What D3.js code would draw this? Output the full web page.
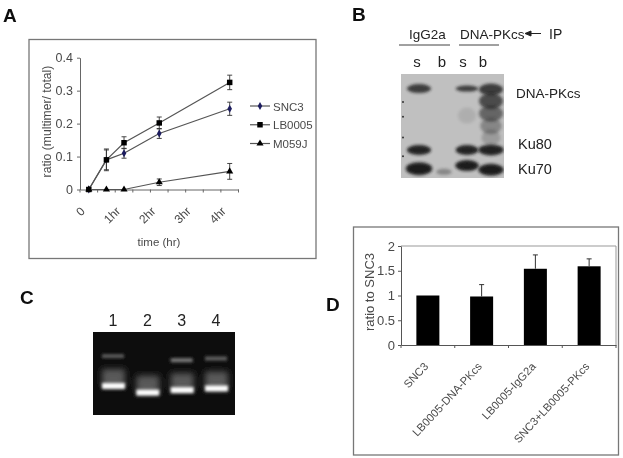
<!DOCTYPE html>
<html><head><meta charset="utf-8">
<script src="https://cdn.jsdelivr.net/npm/d3@7/dist/d3.min.js"></script>
<style>html,body{margin:0;padding:0;background:#fff}svg{display:block}text{font-family:"Liberation Sans",Arial,sans-serif}</style>
</head><body><svg id="c" width="623" height="458"></svg>
<script>
// Panel A
const timeCats = ["0","a","1hr","b","2hr","c","3hr","d","4hr"];
const timeIdx = [0,1,2,4,8];
const snc3 = [0,0.09,0.11,0.17,0.245];
const snc3Err = [0,0.03,0.015,0.015,0.02];
const lb0005 = [0,0.09,0.142,0.202,0.325];
const lb0005Err = [0,0.033,0.018,0.018,0.022];
const m059j = [0,0,0,0.022,0.055];
const m059jErr = [0,0,0,0.01,0.024];
const aTicks = [0,0.1,0.2,0.3,0.4];
const aLegend = ["SNC3","LB0005","M059J"];
// Panel D
const dCats = ["SNC3","LB0005-DNA-PKcs","LB0005-IgG2a","SNC3+LB0005-PKcs"];
const dVals = [1,0.98,1.54,1.59];
const dErr = [0,0.24,0.28,0.15];
const dTicks = [0,0.5,1,1.5,2];
// Panel B gel: lane, migration, relative width, height, opacity
const bLanes = ["s1","b1","s2","b2"];
const bBands = [
 ["s1",14,1.0,7,0.8],["s1",73,1.0,8,0.95],["s1",91,1.1,11,0.98],
 ["b1",94,0.65,4,0.35],
 ["s2",14,0.95,4,0.8],["s2",73,0.95,8,0.95],["s2",88,0.98,9,0.98],["s2",40,0.75,14,0.1],
 ["b2",15,1.0,10,0.8],["b2",26,1.0,14,0.7],["b2",38,1.0,14,0.55],["b2",50,0.9,14,0.35],["b2",61,0.8,14,0.22],
 ["b2",73,1.05,9,0.95],["b2",92,1.05,10,0.98]
];
const bMarkers = [[27],[41],[61],[79]];
// Panel C gel
const cLanes = ["1","2","3","4"];
const cHigh = [29,null,34,32];
const cHighAlpha = [0.5,0.15,0.7,0.55];
const cLow = [65,73,70,68];

const svg = d3.select("#c");
const defs = svg.append("defs");
[["b05",0.5],["b1",1.5],["b2",3]].forEach(([id,s])=>{
  defs.append("filter").attr("id",id).attr("filterUnits","userSpaceOnUse")
   .attr("x",0).attr("y",0).attr("width",623).attr("height",458)
   .append("feGaussianBlur").attr("stdDeviation",s);
});
const root = svg.append("g").attr("filter","url(#b05)");
const grey="#4a4a4a";
function label(t,x,y,size,opt={}){
  const e=root.append("text").attr("x",x).attr("y",y).attr("font-size",size).attr("fill",opt.fill||"#222")
   .attr("text-anchor",opt.anchor||"start").attr("font-weight",opt.weight||"normal").text(t);
  if(opt.rot!=null) e.attr("transform",`rotate(${opt.rot} ${x} ${y})`);
  return e;
}
function styleAxis(g,c="#666"){
  g.selectAll("path,line").attr("stroke",c).attr("stroke-width",1);
  g.selectAll("text").attr("fill",grey);
}
label("A",3,22,19,{weight:"bold",fill:"#111"});
label("B",352,21,19,{weight:"bold",fill:"#111"});
label("C",20,304,19,{weight:"bold",fill:"#111"});
label("D",326,311,19,{weight:"bold",fill:"#111"});

// ---- A
root.append("rect").attr("x",29).attr("y",39.5).attr("width",287).attr("height",219).attr("fill","#fff").attr("stroke","#777").attr("stroke-width",1.3);
const ax = d3.scaleBand().domain(timeCats).range([80,238.5]);
const ay = d3.scaleLinear().domain([0,0.4]).range([189.5,57.7]);
const gax = root.append("g").attr("transform","translate(0,189.5)")
  .call(d3.axisBottom(ax).tickSizeOuter(0).tickSize(0).tickFormat(""));
gax.selectAll(".tick").remove();
gax.selectAll("line.t").data(timeCats.concat(["end"])).join("line").attr("class","t")
  .attr("x1",(d,i)=>i<9?ax(d):ax.range()[1]).attr("x2",(d,i)=>i<9?ax(d):ax.range()[1]).attr("y1",0).attr("y2",3);
const gay = root.append("g").attr("transform","translate(80,0)")
  .call(d3.axisLeft(ay).tickValues(aTicks).tickSize(3).tickSizeOuter(0).tickFormat(d=>d===0?"0":d3.format(".1f")(d)));
gay.selectAll("text").attr("font-size",12.5).attr("x",-7);
gay.style("font-family","inherit");
styleAxis(gax);styleAxis(gay);
timeCats.forEach((c,i)=>{ if(i%2===0){
  const x=ax(c)+ax.bandwidth()/2;
  label(c,x-3,212,12,{anchor:"end",rot:-45,fill:grey});
}});
label("ratio (multimer/ total)",51,121.5,12.2,{anchor:"middle",rot:-90,fill:grey});
label("time (hr)",159,246,11.5,{anchor:"middle",fill:grey});
const xOf=i=>ax(timeCats[timeIdx[i]])+ax.bandwidth()/2;
const line=d3.line().x((d,i)=>xOf(i)).y(d=>ay(d));
const sym={ "SNC3":d3.symbolDiamond, "LB0005":d3.symbolSquare, "M059J":d3.symbolTriangle };
const symSize={ "SNC3":18,"LB0005":30,"M059J":22 };
const col={ "SNC3":"#1c1c5e","LB0005":"#000","M059J":"#000" };
[["SNC3",snc3,snc3Err],["LB0005",lb0005,lb0005Err],["M059J",m059j,m059jErr]].forEach(([n,v,e])=>{
  root.append("path").attr("d",line(v)).attr("fill","none").attr("stroke","#555").attr("stroke-width",1.2);
  const g=root.append("g");
  v.forEach((d,i)=>{
    if(e[i]>0){
      const x=xOf(i),y1=ay(d-e[i]),y2=ay(d+e[i]);
      g.append("path").attr("d",`M${x-2.5},${y1}H${x+2.5}M${x},${y1}V${y2}M${x-2.5},${y2}H${x+2.5}`).attr("stroke","#333").attr("fill","none").attr("stroke-width",0.9);
    }
    g.append("path").attr("d",d3.symbol().type(sym[n]).size(symSize[n])()).attr("transform",`translate(${xOf(i)},${ay(d)})`).attr("fill",col[n]);
  });
});
const legY=d3.scalePoint().domain(aLegend).range([106,143.5]);
aLegend.forEach(n=>{
  const y=legY(n);
  root.append("line").attr("x1",250).attr("x2",270).attr("y1",y).attr("y2",y).attr("stroke","#555").attr("stroke-width",1.2);
  root.append("path").attr("d",d3.symbol().type(sym[n]).size(symSize[n])()).attr("transform",`translate(260,${y})`).attr("fill",col[n]);
  label(n,273,y+4.5,11.5,{fill:grey});
});

// ---- B
const bPos={s1:419,b1:444,s2:467,b2:491};
const by=d3.scaleLinear().domain([0,100]).range([74,178]);
root.append("rect").attr("x",401).attr("y",74).attr("width",103).attr("height",104).attr("fill","#c0c0c0");
defs.append("clipPath").attr("id","bclip").append("rect").attr("x",401).attr("y",74).attr("width",103).attr("height",104);
const bGroup=root.append("g").attr("clip-path","url(#bclip)");
bBands.forEach(([l,m,w,h,a])=>{
  bGroup.append("ellipse").attr("cx",bPos[l]).attr("cy",by(m)).attr("rx",12*w).attr("ry",h/2+1)
   .attr("fill","#1c1c1c").attr("opacity",a).attr("filter","url(#b1)");
});
bMarkers.forEach(([m])=>root.append("circle").attr("cx",403).attr("cy",by(m)).attr("r",1).attr("fill","#333"));
label("IgG2a",409,39,13.5);
label("DNA-PKcs",460,39,13.5);
label("IP",549,39,14);
root.append("path").attr("d","M541,33.5H527M531,31L525,33.5L531,36Z").attr("stroke","#222").attr("fill","#222");
root.append("line").attr("x1",399).attr("x2",450).attr("y1",45).attr("y2",45).attr("stroke","#444");
root.append("line").attr("x1",459).attr("x2",499).attr("y1",45).attr("y2",45).attr("stroke","#444");
["s","b","s","b"].forEach((t,i)=>label(t,[417,442,463,483][i],67,15,{anchor:"middle"}));
label("DNA-PKcs",516,98,13.5);
label("Ku80",518,149,14.5);
label("Ku70",518,174,14.5);

// ---- C
const cx=d3.scalePoint().domain(cLanes).range([113,216]);
const cy=d3.scaleLinear().domain([0,100]).range([332,415]);
root.append("rect").attr("x",93).attr("y",332).attr("width",142).attr("height",83).attr("fill","#0d0d0d");
cLanes.forEach((l,i)=>{
  const x=cx(l);
  label(l,x,326,16,{anchor:"middle"});
  if(cHigh[i]!==null) root.append("rect").attr("x",x-11).attr("y",cy(cHigh[i])-2).attr("width",22).attr("height",4)
     .attr("fill","#aaa").attr("opacity",cHighAlpha[i]).attr("filter","url(#b1)");
  root.append("rect").attr("x",x-11).attr("y",cy(cLow[i])-17).attr("width",23).attr("height",18)
     .attr("fill","#999").attr("opacity",0.55).attr("filter","url(#b2)");
  root.append("rect").attr("x",x-11).attr("y",cy(cLow[i])-3).attr("width",23).attr("height",6)
     .attr("fill","#fff").attr("filter","url(#b1)");
});

// ---- D
root.append("rect").attr("x",353.5).attr("y",227).attr("width",265).attr("height",228).attr("fill","#fff").attr("stroke","#777").attr("stroke-width",1.3);
const dx=d3.scaleBand().domain(dCats).range([401,616]);
const dy=d3.scaleLinear().domain([0,2]).range([345,246]);
root.append("path").attr("d","M401,246H616V345").attr("fill","none").attr("stroke","#999");
const gdx=root.append("g").attr("transform","translate(0,345)").call(d3.axisBottom(dx).tickSize(0).tickSizeOuter(0).tickFormat(""));
gdx.selectAll(".tick").remove();
dCats.forEach(c=>gdx.append("line").attr("x1",dx(c)).attr("x2",dx(c)).attr("y1",0).attr("y2",3));
gdx.append("line").attr("x1",616).attr("x2",616).attr("y1",0).attr("y2",3);
const gdy=root.append("g").attr("transform","translate(401,0)").call(d3.axisLeft(dy).tickValues(dTicks).tickSize(3).tickSizeOuter(0).tickFormat(d3.format("")));
gdy.selectAll("text").attr("font-size",13).attr("x",-6);
gdy.style("font-family","inherit");
styleAxis(gdx,"#555");styleAxis(gdy,"#555");
root.selectAll(null).data(dCats).join("rect").attr("x",d=>dx(d)+dx.bandwidth()/2-11.5).attr("width",23)
  .attr("y",(d,i)=>dy(dVals[i])).attr("height",(d,i)=>345-dy(dVals[i])).attr("fill","#000");
dCats.forEach((c,i)=>{
  const x=dx(c)+dx.bandwidth()/2;
  if(dErr[i]>0){
    const y=dy(dVals[i]+dErr[i]);
    root.append("path").attr("d",`M${x-2.5},${y}H${x+2.5}M${x},${y}V${dy(dVals[i])}`).attr("stroke","#333").attr("fill","none");
  }
  label(c,x+1,367,11.2,{anchor:"end",rot:-47,fill:grey});
});
label("ratio to SNC3",374,292,13,{anchor:"middle",rot:-90,fill:grey});
</script></body></html>
